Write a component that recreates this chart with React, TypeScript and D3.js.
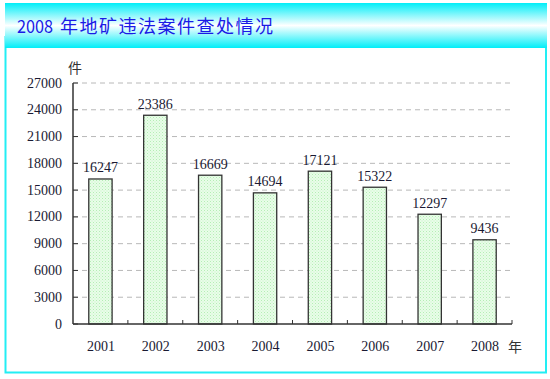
import React from "react";
import * as d3 from "d3";

const years = ["2001", "2002", "2003", "2004", "2005", "2006", "2007", "2008"];
const cases = [16247, 23386, 16669, 14694, 17121, 15322, 12297, 9436];
const yTicks = [0, 3000, 6000, 9000, 12000, 15000, 18000, 21000, 24000, 27000];
const titleYear = "2008";
const titleText = "年地矿违法案件查处情况";
const yUnit = "件";
const xUnit = "年";

export default function App() {
  const W = 550, H = 379;
  const left = 73, right = 512, top = 83, bottom = 324;
  const x = d3.scaleBand<string>().domain(years).range([left, right]).paddingInner(0.575).paddingOuter(0.2875);
  const xb = d3.scaleBand<string>().domain(years).range([left, right]);
  const y = d3.scaleLinear().domain([0, 27000]).range([bottom, top]);
  const serif = "'Liberation Serif', 'Times New Roman', serif";
  const cjk = "'Noto Sans CJK SC', sans-serif";
  return (
    <svg width={W} height={H} style={{ position: "absolute", left: 0, top: 0, background: "#fff" }}>
      <defs>
        <linearGradient id="tg" x1="0" y1="0" x2="0" y2="1">
          <stop offset="0" stopColor="#00eef8" />
          <stop offset="0.5" stopColor="#ffffff" />
          <stop offset="1" stopColor="#00eef8" />
        </linearGradient>
        <pattern id="dots" width="3" height="3" patternUnits="userSpaceOnUse">
          <rect width="3" height="3" fill="#e8fde8" />
          <rect x="0" y="0" width="1" height="1" fill="#b5eeb5" />
          <rect x="1.5" y="1.5" width="1" height="1" fill="#c8f4c8" />
        </pattern>
      </defs>
      <rect x={0} y={0} width={W} height={H} fill="#fff" />
      <path d={`M5.5,36 V372.5 H546 V48`} fill="none" stroke="#22eef4" strokeWidth={2} />
      <rect x={5} y={3} width={542} height={45} fill="url(#tg)" />
      <text x={17} y={33} fontFamily={cjk} fontSize={18} fill="#1a1ae6">
        <tspan textLength={36} lengthAdjust="spacingAndGlyphs">{titleYear}</tspan>
      </text>
      <text x={60} y={33} fontFamily={cjk} fontSize={18} fill="#1a1ae6" textLength={213} lengthAdjust="spacing">{titleText}</text>

      {yTicks.map((t) => (
        <g key={t}>
          {t > 0 && (
            <line x1={left} x2={right} y1={y(t)} y2={y(t)} stroke="#b8b8b8" strokeDasharray="5,4" strokeWidth={1} />
          )}
          <line x1={left} x2={left + 5} y1={y(t)} y2={y(t)} stroke="#333" strokeWidth={1} />
          <text x={62} y={y(t) + 4.5} textAnchor="end" fontFamily={serif} fontSize={14} fill="#1a1a33">{t}</text>
        </g>
      ))}
      {years.map((yr, i) => (
        <g key={yr}>
          <rect x={x(yr)} y={y(cases[i])} width={x.bandwidth()} height={bottom - y(cases[i])} fill="url(#dots)" stroke="#333" strokeWidth={1.3} />
          <text x={x(yr)! + x.bandwidth() / 2} y={y(cases[i]) - 6.5} textAnchor="middle" fontFamily={serif} fontSize={14} fill="#1a1a33">{cases[i]}</text>
          <text x={xb(yr)! + xb.bandwidth() / 2 + 0.5} y={351} textAnchor="middle" fontFamily={serif} fontSize={14} fill="#1a1a33">{yr}</text>
          <line x1={xb(yr)! + xb.bandwidth()} x2={xb(yr)! + xb.bandwidth()} y1={bottom} y2={bottom - 4} stroke="#333" strokeWidth={1} />
        </g>
      ))}
      <line x1={left} x2={left} y1={top} y2={bottom} stroke="#333" strokeWidth={1.5} />
      <line x1={left} x2={right} y1={bottom} y2={bottom} stroke="#333" strokeWidth={1.5} />
      <text x={68} y={73} fontFamily={cjk} fontSize={14} fill="#333">{yUnit}</text>
      <text x={508} y={352} fontFamily={cjk} fontSize={14} fill="#333">{xUnit}</text>
    </svg>
  );
}
